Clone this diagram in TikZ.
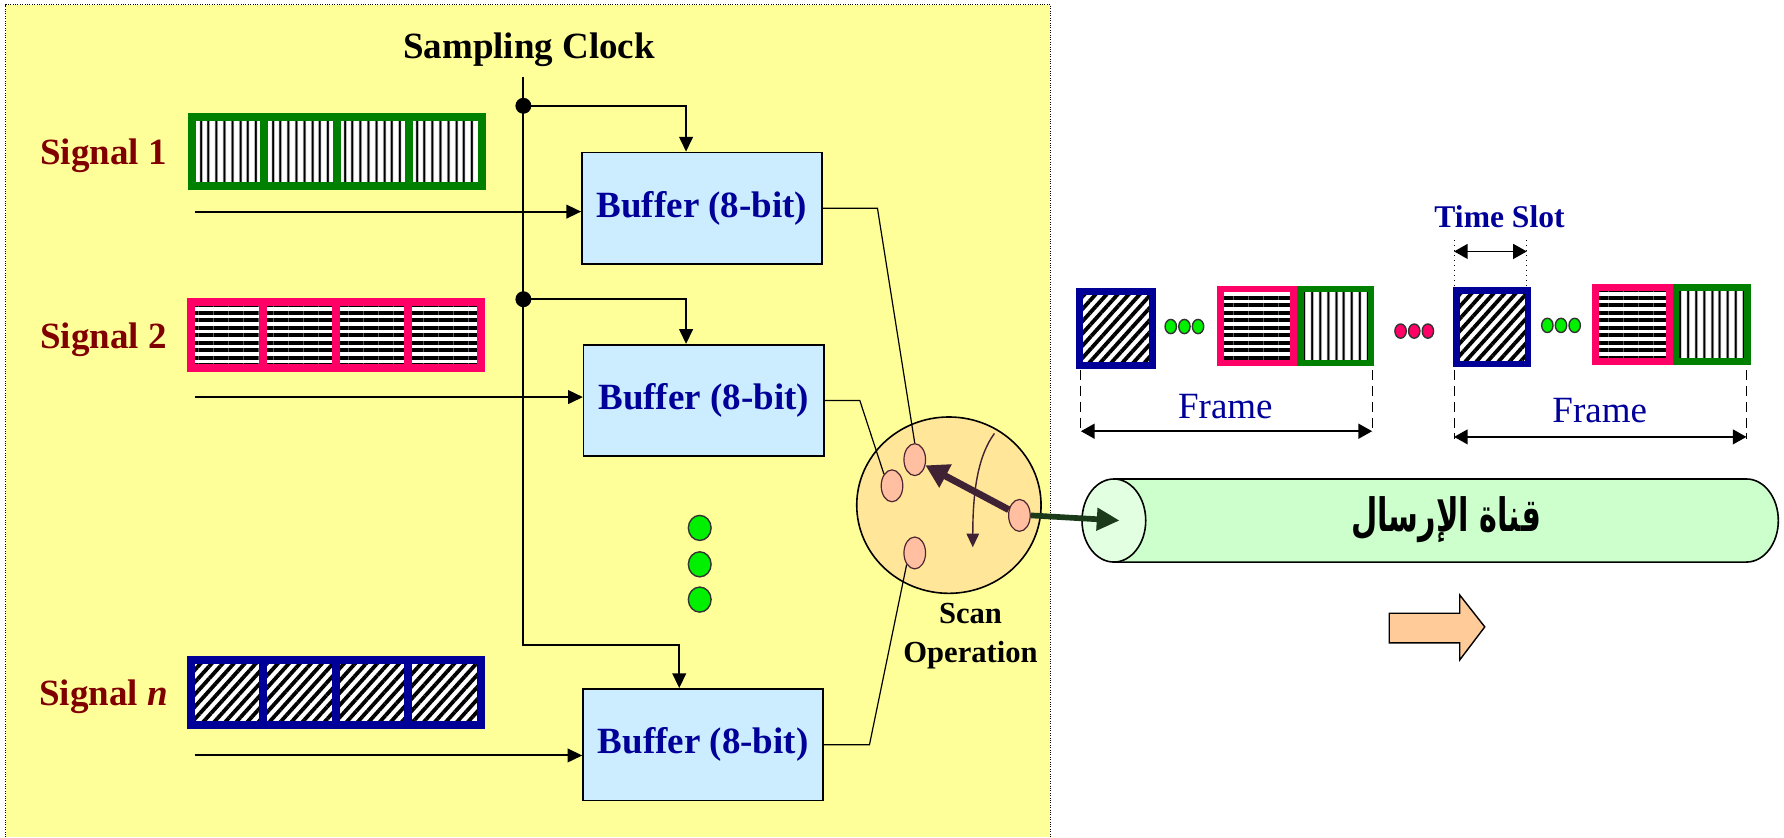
\documentclass[tikz,border=0pt]{standalone}
\usepackage{fontspec}
\setmainfont{Liberation Serif}
\newfontfamily\arabicfont[Script=Arabic]{DejaVu Sans}
\TeXXeTstate=1
\usetikzlibrary{arrows.meta,shapes.geometric,patterns.meta}
\definecolor{panelyellow}{HTML}{FFFF99}
\definecolor{bufblue}{HTML}{CCECFF}
\definecolor{txtblue}{HTML}{000099}
\definecolor{sigred}{HTML}{800000}
\definecolor{gframe}{HTML}{008000}
\definecolor{pframe}{HTML}{FF0066}
\definecolor{bframe}{HTML}{000099}
\definecolor{dotgreen}{HTML}{00F000}
\definecolor{scanfill}{HTML}{FFE699}
\definecolor{contactfill}{HTML}{FFBFA0}
\definecolor{contactline}{HTML}{4D2633}
\definecolor{rotor}{HTML}{3F2233}
\definecolor{outgreen}{HTML}{1A3A1A}
\definecolor{chanbody}{HTML}{CCFFCC}
\definecolor{chanface}{HTML}{E2FFE2}
\definecolor{orangearrow}{HTML}{FFCC99}
\begin{document}
\begin{tikzpicture}[x=0.2mm, y=-0.2mm,
  big/.style={font=\fontsize{18.5}{22}\selectfont\bfseries},
  buffer/.style={draw, line width=0.8pt, fill=bufblue, text=txtblue, big, minimum width=42.2mm, minimum height=19.6mm},
  siglabel/.style={text=sigred, big, anchor=base},
  arrow/.style={-{Triangle[length=2.6mm,width=2.4mm]}, line width=1pt},
  dimarrow/.style={{Triangle[length=2.4mm,width=2.6mm]}-{Triangle[length=2.4mm,width=2.6mm]}, line width=0.9pt},
  wire/.style={line width=0.6pt},
  cell/.style={line width=1.4mm, preaction={fill=white}},
  gcell/.style={cell, draw=gframe, pattern={Lines[angle=90,distance=4pt,line width=1.1pt]}},
  pcell/.style={cell, draw=pframe, pattern={Lines[angle=0,distance=3.75pt,line width=2pt]}},
  bcell/.style={cell, draw=bframe, pattern={Lines[angle=48,distance=4.1pt,line width=1.9pt]}},
  slot/.style={line width=1.2mm},
  gdot/.style={draw=black!80, fill=dotgreen, line width=0.7pt},
  rdot/.style={draw=black!80, fill=pframe, line width=0.7pt},
  contact/.style={ellipse, draw=contactline, fill=contactfill, line width=0.6pt, minimum width=3.8mm, minimum height=5.6mm, inner sep=0pt},
  bluetext/.style={text=txtblue}
]
\useasboundingbox (0,0) rectangle (1568,736);
% yellow panel
\fill[panelyellow] (5,4) rectangle (923,736);
\draw[line width=0.6pt, dash pattern=on 0.5pt off 0.7pt] (5,736) -- (5,4) -- (923,4) -- (923,736);

\node[big, anchor=base] (clklbl) at (465,51) {Sampling Clock};
\node[siglabel] (sig1) at (91,145) {Signal 1};
\node[siglabel] (sig2) at (91,306) {Signal 2};
\node[siglabel] (sign) at (91,620) {Signal \textit{n}};

% signal words
\foreach \i in {0,...,3} {
  \draw[gcell] (168.5+\i*63.75,102.5) rectangle ++(63.75,61);
  \draw[pcell] (167.5+\i*63.75,265.5) rectangle ++(63.75,58);
  \draw[bcell] (167.5+\i*63.75,580.5) rectangle ++(63.75,57);
}

\node[buffer] (buf1) at (617,183) {Buffer (8-bit)};
\node[buffer] (buf2) at (618.5,352) {Buffer (8-bit)};
\node[buffer] (buf3) at (618,654.5) {Buffer (8-bit)};

% inputs
\coordinate (in1) at (171,186);
\coordinate (in2) at (171,349);
\coordinate (in3) at (171,664);
\draw[arrow] (in1) -- (in1 -| buf1.west);
\draw[arrow] (in2) -- (in2 -| buf2.west);
\draw[arrow] (in3) -- (in3 -| buf3.west);

% clock
\coordinate (clk) at (460,68);
\coordinate (clkend) at (460,567);
\coordinate (tap1) at (460,93);
\coordinate (tap2) at (460,263);
\draw[arrow] (clk) -- (clkend) -| ([xshift=-4.2mm]buf3.north);
\draw[arrow] (tap1) -| ([xshift=-2.8mm]buf1.north);
\draw[arrow] (tap2) -| ([xshift=-3.1mm]buf2.north);
\fill (tap1) circle[radius=1.4mm];
\fill (tap2) circle[radius=1.4mm];

\foreach \y in {464,496,527}
  \draw[gdot] (615,\y) ellipse[x radius=2mm, y radius=2.2mm];

% scan switch
\node[ellipse, draw, line width=0.8pt, fill=scanfill, minimum width=32.4mm, minimum height=31mm, inner sep=0pt] (scan) at (834,444) {};
\node[contact] (c1) at (804,404) {};
\node[contact] (c2) at (784,427) {};
\node[contact] (c3) at (804,486) {};
\node[contact] (c4) at (896,453) {};
\draw[wire] (buf1.east) -- ++(48,0) -- (c1.north);
\draw[wire] (buf2.east) -- ++(31,0) -- (c2.north west);
\draw[wire] (buf3.east) -- ++(40,0) -- (c3.235);
\draw[rotor, line width=1.2mm, -{Triangle[length=4mm,width=4.4mm]}] (c4) -- (c1);
\coordinate (sw1) at (874,381);
\coordinate (sw2) at (855,481);
\draw[rotor, line width=0.7pt, -{Triangle[length=2.4mm,width=2.2mm]}] (sw1) .. controls (860,400) and (855,430) .. (sw2);
\node[font=\fontsize{15.3}{19.4}\selectfont\bfseries, align=center] (scanlbl) at (853,559) {Scan\\Operation};

% channel
\fill[chanbody, draw=black, line width=0.8pt] (979,421) -- (1535,421) arc[start angle=-90, end angle=90, x radius=28, y radius=36.5] -- (979,494) -- cycle;
\node[ellipse, draw, line width=0.8pt, fill=chanface, minimum width=11.2mm, minimum height=14.6mm, inner sep=0pt] (face) at (979,457.5) {};
\node[font=\arabicfont\fontsize{23}{26}\selectfont\bfseries] (chtxt) at (1271,457) {\scalebox{0.66}[1]{\beginR قناة الإرسال\endR}};
\draw[outgreen, line width=1mm, -{Triangle[length=4mm,width=3.8mm]}] (c4.east) -- ([xshift=1mm]face.center);
\draw[line width=0.7pt, fill=orangearrow] (1221,539) -- (1283,539) -- (1283,523) -- (1305,551) -- (1283,580) -- (1283,565) -- (1221,565) -- cycle;

% frames
\draw[bcell, slot] (949,256) rectangle (1013,321);
\draw[pcell, slot] (1073,254) rectangle (1137,319);
\draw[gcell, slot] (1143,254) rectangle (1205,319);
\draw[bcell, slot] (1280,255) rectangle (1343,320);
\draw[pcell, slot] (1402,253) rectangle (1467,318);
\draw[gcell, slot] (1473,253) rectangle (1536,318);
\foreach \k in {0,1,2} {
  \draw[gdot] (1029+\k*12,287) ellipse[x radius=1mm, y radius=1.25mm];
  \draw[rdot] (1231+\k*12,291) ellipse[x radius=1mm, y radius=1.25mm];
  \draw[gdot] (1360+\k*12,286) ellipse[x radius=1mm, y radius=1.25mm];
}
\node[font=\fontsize{15.8}{19}\selectfont\bfseries, bluetext, anchor=base] (slotlbl) at (1318,200) {Time Slot};
\coordinate (tsa) at (1278,221);
\coordinate (tsb) at (1342,221);
\draw[line width=0.5pt, dotted] (1278,211) -- (1278,252);
\draw[line width=0.5pt, dotted] (1342,211) -- (1342,252);
\draw[dimarrow] (tsa) -- (tsb);

\coordinate (f1a) at (950,379);
\coordinate (f1b) at (1206,379);
\coordinate (f2a) at (1278,384);
\coordinate (f2b) at (1535,384);
\draw[line width=0.5pt, dash pattern=on 1.8mm off 1mm] (950,325) -- (950,381);
\draw[line width=0.5pt, dash pattern=on 1.8mm off 1mm] (1206,325) -- (1206,381);
\draw[line width=0.5pt, dash pattern=on 1.8mm off 1mm] (1278,325) -- (1278,386);
\draw[line width=0.5pt, dash pattern=on 1.8mm off 1mm] (1535,325) -- (1535,386);
\draw[dimarrow] (f1a) -- (f1b);
\draw[dimarrow] (f2a) -- (f2b);
\node[font=\fontsize{18.5}{22}\selectfont, bluetext, anchor=base] (frm1) at (1077,368) {Frame};
\node[font=\fontsize{18.5}{22}\selectfont, bluetext, anchor=base] (frm2) at (1406,371) {Frame};
\end{tikzpicture}
\end{document}
